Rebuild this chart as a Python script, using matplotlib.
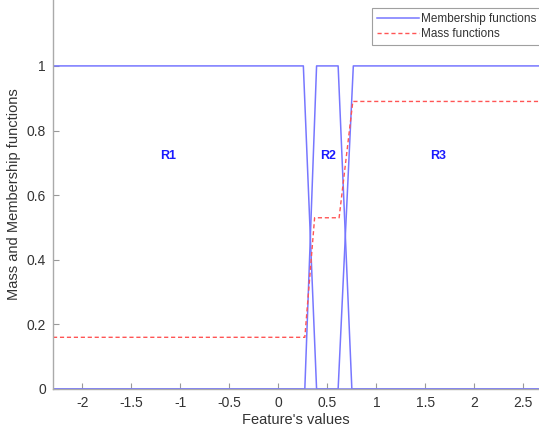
import numpy as np
import matplotlib.pyplot as plt

plt.rcParams['font.family'] = ['Liberation Sans', 'DejaVu Sans']

# membership functions (trapezoids), breakpoints
r1_x = [-2.3, 0.255, 0.39, 2.7]
r1_y = [1, 1, 0, 0]
r2_x = [-2.3, 0.27, 0.39, 0.61, 0.75, 2.7]
r2_y = [0, 0, 1, 1, 0, 0]
r3_x = [-2.3, 0.61, 0.765, 2.7]
r3_y = [0, 0, 1, 1]

# mass function
mass_x = [-2.3, 0.27, 0.37, 0.62, 0.76, 2.7]
mass_y = [0.16, 0.16, 0.53, 0.53, 0.89, 0.89]

region_names = ['R1', 'R2', 'R3']
region_x = [-1.12, 0.51, 1.63]
region_y = [0.72, 0.72, 0.72]

xticks = [-2, -1.5, -1, -0.5, 0, 0.5, 1, 1.5, 2, 2.5]
yticks = [0, 0.2, 0.4, 0.6, 0.8, 1]

fig = plt.figure(figsize=(5.39, 4.33), dpi=100)
ax = fig.add_axes([53/539, 44/433, 486/539, 389/433])

blue = '#7777ff'
red = '#ff5555'
ax.plot(r1_x, r1_y, color=blue, lw=1.1, label='Membership functions')
ax.plot(r2_x, r2_y, color=blue, lw=1.1)
ax.plot(r3_x, r3_y, color=blue, lw=1.1)
ax.plot(mass_x, mass_y, color=red, lw=1.0, ls=(0, (3, 2)), label='Mass functions')

for name, x, y in zip(region_names, region_x, region_y):
    ax.text(x, y, name, color='#1a1aff', fontsize=9, fontweight='bold',
            ha='center', va='center')

ax.set_xlim(-2.3, 2.66)
ax.set_ylim(0, 1.204)
ax.set_xticks(xticks)
ax.set_xticklabels(['-2', '-1.5', '-1', '-0.5', '0', '0.5', '1', '1.5', '2', '2.5'])
ax.set_yticks(yticks)
ax.set_yticklabels(['0', '0.2', '0.4', '0.6', '0.8', '1'])
ax.tick_params(direction='in', length=4, width=0.8, color='#999999',
               labelsize=10, labelcolor='#333333', pad=5)

for s in ['top', 'right']:
    ax.spines[s].set_visible(False)
for s in ['left', 'bottom']:
    ax.spines[s].set_color('#aaaaaa')
    ax.spines[s].set_linewidth(1.0)

ax.set_xlabel("Feature's values", fontsize=10.5, color='#333333', labelpad=2)
ax.set_ylabel('Mass and Membership functions', fontsize=10.5, color='#333333', labelpad=4)

leg = ax.legend(loc='upper right', bbox_to_anchor=(1.01, 0.985), fontsize=8.5,
                frameon=True, fancybox=False, edgecolor='#888888',
                handlelength=3.6, handletextpad=0.2, borderpad=0.4,
                labelspacing=0.3, borderaxespad=0.2)
leg.get_frame().set_linewidth(0.8)
for t in leg.get_texts():
    t.set_color('#333333')

fig.savefig('out.png', dpi=100)
